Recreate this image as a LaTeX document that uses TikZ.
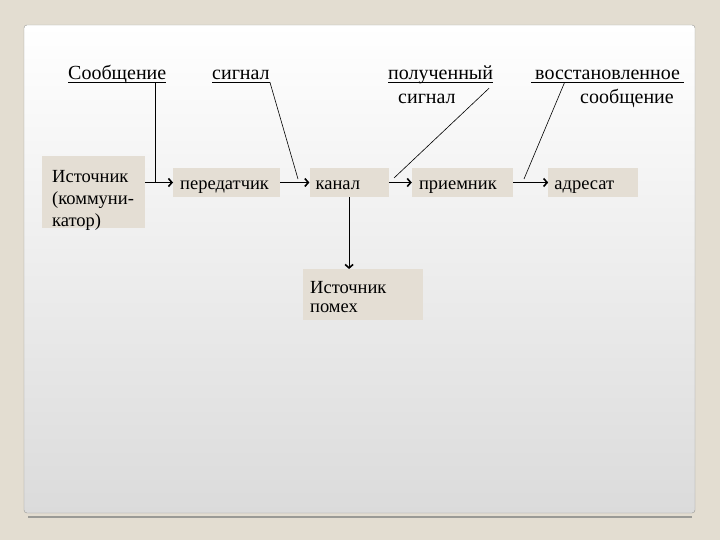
\documentclass[tikz,border=0pt]{standalone}
\usepackage{fontspec}
\setmainfont{Liberation Serif}
\newfontfamily\ruserif{Liberation Serif}
\usepackage{tikz}
\usetikzlibrary{arrows.meta,positioning,calc}
\definecolor{SBeige}{HTML}{E3DDD1}
\definecolor{SBox}{HTML}{E4DED4}
\definecolor{SEdge}{HTML}{9A9A96}
\definecolor{SPanelLow}{HTML}{DBDBDB}

\begin{document}
\begin{tikzpicture}[
  x=1pt,y=-1pt,
  node distance=29pt,
  blk/.style={fill=SBox,inner xsep=7pt,inner ysep=0pt,align=left,
    minimum height=29pt,text height=17pt,text depth=2pt,
    font=\ruserif\fontsize{18.5}{22}\selectfont},
  lbl/.style={inner sep=0pt,anchor=base west,text depth=2pt,
    font=\ruserif\fontsize{20}{22}\selectfont},
  a/.style={-{Straight Barb[length=3.5pt,width=8pt,line width=1.6pt]},line width=0.8pt},
  ln/.style={line width=0.6pt}
]
  % slide and panel
  \fill[SBeige] (0,0) rectangle (720,540);
  \draw[SEdge,line width=1.5pt] (28,517) -- (692,517);
  \shade[top color=white,bottom color=SPanelLow,draw=SEdge,rounded corners=3pt]
    (24,25) rectangle (695,513);
  % boxes
  \node[blk,anchor=north west,text width=83pt,minimum height=72pt,inner xsep=10pt,
    text height=13pt,text depth=33pt] at (42,156) (src) {Источник\\(коммуни-\\катор)};
  \node[blk,anchor=west,text width=93pt] at (173,182.5) (tx) {передатчик};
  \node[blk,right=29pt of tx,text width=67pt,inner xsep=6pt] (ch) {канал};
  \node[blk,right=23pt of ch,text width=87pt] (rx) {приемник};
  \node[blk,right=35pt of rx,text width=78pt,inner xsep=6pt] (dst) {адресат};
  \node[blk,anchor=north west,text width=106pt,minimum height=51pt,
    text height=13pt,text depth=16pt,font=\ruserif\fontsize{18.5}{19}\selectfont]
    at (303,269) (noise) {Источник\\помех};
  % arrows
  \draw[a] (src.east|-tx) -- (tx);
  \foreach \x/\y in {tx/ch,ch/rx,rx/dst}
    {\draw[a] (\x) -- (\y);}
  \draw[a] (ch.south) -- (ch.south|-noise.north);
  % labels
  \node[lbl] at (68,80) (msg) {Сообщение};
  \node[lbl] at (212,80) (sig) {сигнал};
  \node[lbl] at (388,80) (got) {полученный};
  \node[lbl,text depth=0pt] at (398,104) (got2) {сигнал};
  \node[lbl,inner xsep=4pt] at (531,80) (rst) {восстановленное};
  \node[lbl,text depth=0pt] at (580,104) (rst2) {сообщение};
  \foreach \u in {msg,sig,got,rst}
    {\draw[line width=0.8pt] (\u.south west) -- (\u.south east);}
  % connectors from the labels
  \coordinate (msgtop) at ($(msg.south west)!0.89!(msg.south east)$);
  \coordinate (sigend) at (298,179);
  \coordinate (gotend) at (394,178);
  \coordinate (rstend) at (524,179);
  \draw[ln] (msgtop) -- (msgtop|-tx.west);
  \draw[ln] (sig.south east) -- (sigend);
  \draw[ln] ($(got.south west)!0.96!(got.south east)+(0,6)$) -- (gotend);
  \draw[ln] ($(rst.south west)!0.22!(rst.south east)$) -- (rstend);
\end{tikzpicture}
\end{document}
